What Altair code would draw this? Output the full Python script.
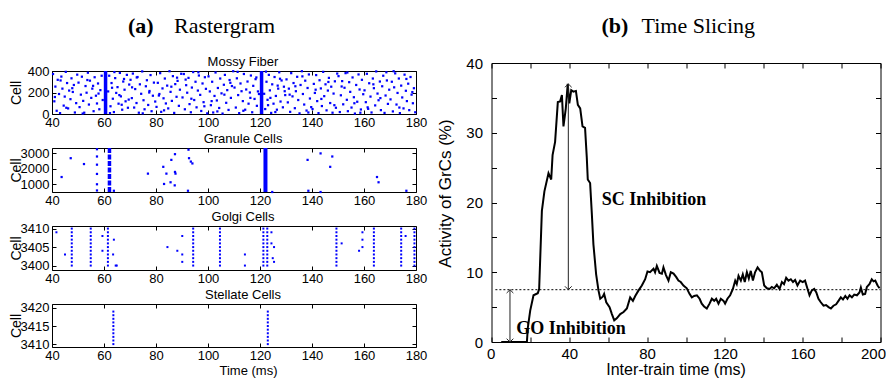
import altair as alt
import pandas as pd

# ------------------------------------------------------------------ data
# (a) Mossy fiber raster: spike times (ms) and cell ids
mf_t = [40.4,40.9,41.3,41.8,42.2,42.7,43.1,43.6,44.0,44.5,44.9,45.3,45.8,46.2,46.6,47.1,47.5,48.0,48.4,48.8,49.3,49.7,41.1,43.3,45.5,47.8,
        50.2,50.6,51.1,51.5,52.0,52.4,52.9,53.3,53.8,54.2,54.6,55.1,55.5,56.0,56.4,56.9,57.3,57.7,58.2,58.6,59.1,59.5,51.8,53.6,55.8,57.9,
        61.6,62.0,62.5,62.9,63.4,63.8,64.3,64.7,65.2,65.6,66.1,66.5,67.0,67.4,67.9,68.3,68.8,69.2,69.7,62.3,64.0,65.9,67.7,69.5,63.1,66.8,
        70.2,70.7,71.1,71.6,72.0,72.5,72.9,73.4,73.8,74.3,74.7,75.2,75.6,76.1,76.5,77.0,77.4,77.9,78.3,78.8,79.2,79.7,70.8,72.6,74.9,77.5,
        80.2,80.7,81.1,81.6,82.0,82.5,82.9,83.4,83.8,84.3,84.7,85.2,85.6,86.1,86.5,87.0,87.4,87.9,88.3,88.8,89.2,89.7,81.3,83.1,85.9,88.1,
        90.2,90.7,91.1,91.6,92.0,92.5,92.9,93.4,93.8,94.3,94.7,95.2,95.6,96.1,96.5,97.0,97.4,97.9,98.3,98.8,99.2,99.7,91.4,93.6,96.3,98.6,
        100.2,100.7,101.1,101.6,102.0,102.5,102.9,103.4,103.8,104.3,104.7,105.2,105.6,106.1,106.5,107.0,107.4,107.9,108.3,108.8,109.2,109.7,101.4,103.6,106.3,108.6,
        110.2,110.7,111.1,111.6,112.0,112.5,112.9,113.4,113.8,114.3,114.7,115.2,115.6,116.1,116.5,117.0,117.4,117.9,118.3,118.8,119.2,119.6,111.4,113.6,116.3,118.6,
        121.6,122.0,122.5,122.9,123.4,123.8,124.3,124.7,125.2,125.6,126.1,126.5,127.0,127.4,127.9,128.3,128.8,129.2,129.7,122.3,124.0,125.9,127.7,129.5,123.1,126.8,
        130.2,130.7,131.1,131.6,132.0,132.5,132.9,133.4,133.8,134.3,134.7,135.2,135.6,136.1,136.5,137.0,137.4,137.9,138.3,138.8,139.2,139.7,131.4,133.6,136.3,138.6,
        140.2,140.7,141.1,141.6,142.0,142.5,142.9,143.4,143.8,144.3,144.7,145.2,145.6,146.1,146.5,147.0,147.4,147.9,148.3,148.8,149.2,149.7,141.4,143.6,146.3,148.6,
        150.2,150.7,151.1,151.6,152.0,152.5,152.9,153.4,153.8,154.3,154.7,155.2,155.6,156.1,156.5,157.0,157.4,157.9,158.3,158.8,159.2,159.7,151.4,153.6,156.3,158.6,
        160.2,160.7,161.1,161.6,162.0,162.5,162.9,163.4,163.8,164.3,164.7,165.2,165.6,166.1,166.5,167.0,167.4,167.9,168.3,168.8,169.2,169.7,161.4,163.6,166.3,168.6,
        170.2,170.7,171.1,171.6,172.0,172.5,172.9,173.4,173.8,174.3,174.7,175.2,175.6,176.1,176.5,177.0,177.4,177.9,178.3,178.8,179.2,179.7,171.4,173.6,176.3,178.6]
mf_c = [372,118,255,30,318,186,8,348,236,78,162,392,288,52,218,138,332,205,270,14,101,366,158,312,58,240,
        292,64,180,347,122,12,260,198,384,88,310,150,236,26,342,170,98,284,44,222,356,130,4,316,262,190,
        210,356,72,288,142,18,334,196,250,96,382,164,40,302,226,118,364,58,274,8,390,176,326,134,244,86,
        318,148,376,60,232,102,344,12,276,188,396,128,44,258,314,84,200,362,26,170,292,116,248,340,6,214,
        66,290,172,380,20,238,146,330,98,264,52,398,206,122,352,10,278,160,308,76,226,374,186,34,254,338,
        154,372,44,268,198,336,92,16,246,390,130,300,62,218,358,178,28,284,110,342,234,6,320,142,388,72,
        350,210,82,300,14,168,386,126,242,56,330,192,4,272,364,104,222,38,316,150,260,398,120,24,180,290,
        246,60,332,176,8,284,212,120,372,40,228,302,96,200,358,16,262,140,324,76,210,186,392,30,150,340,
        188,46,300,132,364,220,10,276,96,344,168,40,236,388,116,312,62,254,176,394,150,18,328,212,82,264,
        322,108,236,20,380,164,288,54,212,346,130,6,270,398,186,88,310,32,242,368,144,64,180,258,350,14,
        46,280,196,362,120,8,314,238,74,392,166,276,34,218,336,102,254,12,190,304,58,376,226,140,298,82,
        352,18,174,306,90,244,380,132,26,296,206,60,340,156,4,270,114,368,228,42,318,184,256,386,100,12,
        220,110,374,48,286,162,14,330,240,80,396,190,128,302,36,258,356,10,172,312,94,226,62,276,148,388,
        136,300,24,248,378,88,196,330,8,264,154,52,366,216,120,282,36,344,180,100,240,16,398,60,326,204]
mf_sync_t = [60.6, 120.6]          # all mossy fibres fire together
mf_cell_range = [0, 400]

# Granule cells
gr_t = [43.7, 47.2, 52.3, 57.3, 57.3, 57.3, 57.3, 57.3, 57.3, 63.8, 76.9, 82.8, 83.1, 84.0, 85.9, 85.6,
        87.3, 87.3, 87.5, 87.2, 92.3, 92.7, 93.4, 94.0, 92.5, 124.7, 138.3, 138.6, 143.3, 143.3, 147.8,
        147.0, 165.0, 165.6, 176.3]
gr_c = [1470, 2690, 2310, 3270, 2800, 2270, 1670, 1000, 600, 580, 1690, 2130, 1020, 1690, 2580, 1130,
        2950, 1800, 1690, 930, 580, 2690, 2470, 2350, 3240, 500, 2580, 580, 3000, 500, 2800,
        2130, 1470, 1130, 580]
gr_sync_t = [62.1, 122.1]
gr_cell_range = [500, 3350]

# Golgi cells
go_cells = [3400, 3401, 3402, 3403, 3404, 3405, 3406, 3407, 3408, 3409, 3410]
go_sync_t = [47.6, 54.9, 61.5, 94.3, 104.6, 121.3, 122.8, 149.4, 163.8, 174.3, 179.4]
go_t = [41.7, 45.0, 59.4, 59.4, 63.8, 63.5, 64.5, 84.4, 88.2, 90.1, 90.1, 90.1, 114.2, 114.2, 124.4,
        124.4, 125.4, 124.9, 125.4, 151.4, 159.4, 159.4, 159.4, 158.1, 176.0, 64.9]
go_c = [3409, 3403, 3408, 3404, 3407, 3403, 3400, 3405, 3404, 3408, 3403, 3401, 3403, 3400, 3409,
        3406, 3405, 3402, 3401, 3406, 3409, 3407, 3405, 3404, 3408, 3400]

# Stellate cells
sc_cells = [3410, 3411, 3412, 3413, 3414, 3415, 3416, 3417, 3418, 3419]
sc_sync_t = [63.6, 123.0]

panel_titles = ["Mossy Fiber", "Granule Cells", "Golgi Cells", "Stellate Cells"]
heading_a = ["(a)", "Rastergram"]
heading_b = ["(b)", "Time Slicing"]

# (b) activity of GrCs vs inter-train time
activity = [(5,0),(10,0),(15,0),(18.2,0),(18.7,2.1),(19.9,4.5),(21.6,6.7),(23.8,7.0),(24.5,7.6),(25.9,18.8),
            (27.2,21.6),(29.3,24.2),(30.7,23.3),(31.4,26.8),(32.7,28.7),(34.1,34.4),(35.3,34.5),(36.2,35.4),
            (37.0,30.9),(38.2,33.5),(39.2,37.0),(40.0,34.2),(41.0,36.1),(42.1,35.9),(43.4,36.0),(44.4,34.0),
            (45.6,33.5),(46.8,30.9),(48.1,30.7),(49.0,26.4),(49.5,23.3),(50.7,22.8),(51.6,18.3),(52.4,14.0),
            (53.8,9.7),(55.0,7.4),(55.9,6.2),(57.2,6.5),(57.9,6.9),(59.0,5.7),(60.7,5.0),(61.9,4.0),(63.1,3.1),
            (64.4,3.4),(66.2,4.0),(67.9,4.3),(69.6,4.8),(71.3,6.4),(72.7,5.9),(73.9,6.6),(75.6,7.4),(77.3,8.1),
            (79.0,9.0),(80.2,10.1),(81.5,10.0),(83.3,10.5),(84.1,10.0),(85.0,10.9),(86.4,9.9),(87.6,9.8),
            (88.4,10.7),(89.7,9.6),(91.0,8.8),(92.2,10.0),(93.6,9.8),(95.0,9.3),(96.1,8.8),(97.3,8.6),(98.7,8.1),
            (100.4,7.7),(101.8,6.9),(103.0,6.4),(104.2,6.6),(105.6,6.7),(107.0,6.2),(108.1,5.5),(109.3,5.1),
            (110.7,4.8),(112.1,5.5),(113.3,6.2),(114.5,5.9),(115.5,6.2),(116.7,5.5),(117.9,6.2),(119.3,5.9),
            (120.1,5.5),(121.3,6.2),(122.7,6.7),(124.1,7.6),(125.3,8.8),(126.1,8.3),(127.0,9.5),(128.2,8.8),
            (129.2,9.7),(130.2,8.6),(131.3,10.0),(132.3,9.1),(133.3,10.2),(134.4,8.8),(135.5,10.0),(136.8,10.7),
            (138.1,10.2),(139.0,10.0),(140.2,8.1),(141.6,7.7),(143.0,7.6),(144.1,7.9),(145.3,7.7),(146.7,8.2),
            (148.1,7.6),(149.3,8.6),(150.4,8.3),(151.5,9.2),(152.7,8.8),(153.9,9.0),(155.0,8.6),(156.1,8.9),
            (157.3,8.1),(158.7,8.8),(160.0,8.6),(161.2,8.8),(162.5,7.6),(163.5,6.7),(164.7,7.4),(165.9,7.6),
            (167.0,7.1),(168.1,6.2),(169.3,5.7),(170.7,5.2),(172.0,5.3),(173.3,5.0),(174.5,4.8),(175.8,5.2),
            (177.2,5.4),(178.4,5.9),(179.6,6.4),(180.7,6.1),(181.9,6.6),(183.0,6.2),(184.1,6.7),(185.3,6.4),
            (186.5,6.8),(187.9,6.7),(189.2,7.1),(189.9,7.8),(190.9,6.8),(192.1,6.9),(193.0,7.9),(194.3,8.3),
            (195.5,9.0),(196.4,8.7),(197.3,8.8),(198.5,8.1),(199.5,7.7)]
baseline_v = 7.5
baseline_t = [2, 200]
arrow_t = [39.5, 9.5]
arrow_lo = [7.5, 0.0]
arrow_hi = [37.0, 7.5]
note_text = ["SC Inhibition", "GO Inhibition"]
note_t = [56.7, 12.7]
note_v = [20.4, 1.9]

# ------------------------------------------------------------------ style
BLUE = "#0000ff"
SANS = "Liberation Sans, Arial, sans-serif"
SERIF = "Liberation Serif, Times New Roman, serif"
WL = 364
XT_L = [40, 60, 80, 100, 120, 140, 160, 180]
XS_L = alt.Scale(domain=[40, 180], nice=False, zero=False)
LFS = 13          # left-panel label size


def tick_layers(df, xf, yf, xs, ys, xv, yv, W, H, size):
    def ax(orient, off, vals):
        return alt.Axis(orient=orient, offset=off, values=vals, labels=False, domain=False,
                        grid=False, ticks=True, tickSize=size, tickColor="black", tickWidth=1,
                        title=None)
    base = alt.Chart(df).mark_point(opacity=0)
    a = base.encode(x=alt.X(f"{xf}:Q", scale=xs, axis=ax("top", -H, xv)),
                    y=alt.Y(f"{yf}:Q", scale=ys, axis=ax("right", -W, yv)))
    b = base.encode(x=alt.X(f"{xf}:Q", scale=xs, axis=ax("bottom", -H, xv)),
                    y=alt.Y(f"{yf}:Q", scale=ys, axis=ax("left", -W, yv)))
    return [a, b]


def x_axis_left(title=None):
    kw = dict(values=XT_L, ticks=False, tickSize=0, domain=False, grid=False, labelFont=SANS,
              labelFontSize=LFS, labelColor="black", labelPadding=2, labelFlush=False,
              labelOverlap=False, format="d")
    if title:
        kw.update(title=title, titleFont=SANS, titleFontSize=13, titleFontWeight="normal",
                  titleColor="black", titleX=196, titleY=27, titleBaseline="alphabetic")
    else:
        kw["title"] = None
    return alt.Axis(**kw)


def y_axis_left(vals, H):
    return alt.Axis(values=vals, ticks=False, tickSize=0, domain=False, grid=False,
                    labelFont=SANS, labelFontSize=LFS, labelColor="black", labelPadding=3,
                    labelFlush=False, labelOverlap=False, format="d", title="Cell",
                    titleFont=SANS, titleFontSize=14, titleFontWeight="normal",
                    titleColor="black", titleX=-29, titleY=H / 2, titleAngle=270,
                    titleBaseline="bottom", titleAlign="center")


def title_layer(text):
    return alt.Chart(pd.DataFrame({"label": [text]})).mark_text(
        font=SANS, fontSize=13, baseline="alphabetic", align="center", color="black"
    ).encode(x=alt.value(191), y=alt.value(-5.5), text="label:N")


def raster(title, dots, ys, yv, H, extra, dot_size=5, xtitle=None):
    main = alt.Chart(dots).mark_square(size=dot_size, color=BLUE, opacity=1).encode(
        x=alt.X("t:Q", scale=XS_L, axis=x_axis_left(xtitle)),
        y=alt.Y("c:Q", scale=ys, axis=y_axis_left(yv, H)))
    tdf = pd.DataFrame({"t": [XS_L.domain[0]], "c": [ys.domain[0]]})
    layers = [main] + list(extra) + [title_layer(title)] + \
        tick_layers(tdf, "t", "c", XS_L, ys, XT_L, yv, WL, H, 4)
    return alt.layer(*layers).resolve_axis(x="independent", y="independent").properties(
        width=WL, height=H)


def heading(parts, xs, width):
    df_b = pd.DataFrame({"label": [parts[0]]})
    df_n = pd.DataFrame({"label": [parts[1]]})
    bold = alt.Chart(df_b).mark_text(font=SERIF, fontSize=22, fontWeight="bold", align="left",
                                     baseline="middle", color="black").encode(
        x=alt.value(xs[0]), y=alt.value(11), text="label:N")
    norm = alt.Chart(df_n).mark_text(font=SERIF, fontSize=22, fontWeight="normal", align="left",
                                     baseline="middle", color="black").encode(
        x=alt.value(xs[1]), y=alt.value(11), text="label:N")
    return alt.layer(bold, norm).properties(
        width=width, height=22, view=alt.ViewBackground(stroke="transparent"))


# --- Mossy fibre
ys_mf = alt.Scale(domain=mf_cell_range, nice=False, zero=False)
df_mf = pd.DataFrame({"t": mf_t, "c": mf_c})
df_mfs = pd.DataFrame({"t": mf_sync_t, "lo": [mf_cell_range[0]] * 2, "hi": [mf_cell_range[1]] * 2})
mf_bars = alt.Chart(df_mfs).mark_rule(color=BLUE, strokeWidth=3.5).encode(
    x=alt.X("t:Q", scale=XS_L, axis=None), y=alt.Y("lo:Q", scale=ys_mf, axis=None), y2="hi:Q")
mossy = raster(panel_titles[0], df_mf, ys_mf, [0, 200, 400], 43, [mf_bars])

# --- Granule cells
ys_gr = alt.Scale(domain=gr_cell_range, nice=False, zero=False)
df_gr = pd.DataFrame({"t": gr_t, "c": gr_c})
df_grs = pd.DataFrame({"t": gr_sync_t, "lo": [gr_cell_range[0]] * 2, "hi": [gr_cell_range[1]] * 2})
gr_col1 = alt.Chart(df_grs.iloc[[0]]).mark_rule(color=BLUE, strokeWidth=3.5, strokeDash=[5, 1.5]).encode(
    x=alt.X("t:Q", scale=XS_L, axis=None), y=alt.Y("lo:Q", scale=ys_gr, axis=None), y2="hi:Q")
gr_col2 = alt.Chart(df_grs.iloc[[1]]).mark_rule(color=BLUE, strokeWidth=4).encode(
    x=alt.X("t:Q", scale=XS_L, axis=None), y=alt.Y("lo:Q", scale=ys_gr, axis=None), y2="hi:Q")
granule = raster(panel_titles[1], df_gr, ys_gr, [1000, 2000, 3000], 44, [gr_col1, gr_col2])

# --- Golgi cells
ys_go = alt.Scale(domain=[3398.8, 3410.7], nice=False, zero=False)
df_go = pd.concat([
    pd.DataFrame({"t": [t] * len(go_cells), "c": go_cells}) for t in go_sync_t
] + [pd.DataFrame({"t": go_t, "c": go_c})], ignore_index=True)
golgi = raster(panel_titles[2], df_go, ys_go, [3400, 3405, 3410], 44, [], dot_size=4)

# --- Stellate cells
ys_sc = alt.Scale(domain=[3409.2, 3421.1], nice=False, zero=False)
df_sc = pd.concat([pd.DataFrame({"t": [t] * len(sc_cells), "c": sc_cells}) for t in sc_sync_t],
                  ignore_index=True)
stellate = raster(panel_titles[3], df_sc, ys_sc, [3410, 3415, 3420], 43, [], dot_size=4,
                  xtitle="Time (ms)")

left = alt.vconcat(heading(heading_a, [76, 122], WL), mossy, granule, golgi, stellate,
                   spacing=34, bounds="flush")

# ------------------------------------------------------------------ (b)
WR, HR = 389, 279
xr = alt.Scale(domain=[0, 200], nice=False, zero=False)
yr = alt.Scale(domain=[0, 40], nice=False, zero=False)
df_act = pd.DataFrame(activity, columns=["t", "v"])

line = alt.Chart(df_act).mark_line(color="black", strokeWidth=2).encode(
    x=alt.X("t:Q", scale=xr, axis=alt.Axis(
        values=[0, 40, 80, 120, 160, 200], ticks=False, tickSize=0, domain=False, grid=False,
        labelFont=SANS, labelFontSize=15, labelColor="black", labelPadding=4, labelFlush=True,
        labelFlushOffset=5, labelOverlap=False, format="d", title="Inter-train time (ms)",
        titleFont=SANS, titleFontSize=16, titleFontWeight="normal", titleColor="black",
        titleX=184, titleY=32, titleBaseline="alphabetic")),
    y=alt.Y("v:Q", scale=yr, axis=alt.Axis(
        values=[0, 10, 20, 30, 40], ticks=False, tickSize=0, domain=False, grid=False,
        labelFont=SANS, labelFontSize=15, labelColor="black", labelPadding=9, labelFlush=False,
        labelOverlap=False, format="d", title="Activity of GrCs (%)", titleFont=SANS,
        titleFontSize=17, titleFontWeight="normal", titleColor="black", titleX=-37, titleY=130,
        titleAngle=270, titleBaseline="bottom", titleAlign="center")))

df_base = pd.DataFrame({"t0": [baseline_t[0]], "t1": [baseline_t[1]], "v": [baseline_v]})
base_rule = alt.Chart(df_base).mark_rule(color="black", strokeWidth=1, strokeDash=[2, 2]).encode(
    x=alt.X("t0:Q", scale=xr, axis=None), x2="t1:Q", y=alt.Y("v:Q", scale=yr, axis=None))

df_arr = pd.DataFrame({"t": arrow_t, "lo": arrow_lo, "hi": arrow_hi})
shafts = alt.Chart(df_arr).mark_rule(color="#222222", strokeWidth=1).encode(
    x=alt.X("t:Q", scale=xr, axis=None), y=alt.Y("lo:Q", scale=yr, axis=None), y2="hi:Q")
heads_up = alt.Chart(df_arr).mark_point(shape="M-1,1L0,0L1,1", size=45, filled=False,
                                        color="#222222", strokeWidth=1, opacity=1).encode(
    x=alt.X("t:Q", scale=xr, axis=None), y=alt.Y("hi:Q", scale=yr, axis=None))
heads_dn = alt.Chart(df_arr).mark_point(shape="M-1,-1L0,0L1,-1", size=45, filled=False,
                                        color="#222222", strokeWidth=1, opacity=1).encode(
    x=alt.X("t:Q", scale=xr, axis=None), y=alt.Y("lo:Q", scale=yr, axis=None))

df_notes = pd.DataFrame({"label": note_text, "t": note_t, "v": note_v})
notes = alt.Chart(df_notes).mark_text(font=SERIF, fontSize=18, fontWeight="bold", align="left",
                                      baseline="middle", color="black").encode(
    x=alt.X("t:Q", scale=xr, axis=None), y=alt.Y("v:Q", scale=yr, axis=None), text="label:N")

tdf_r = pd.DataFrame({"t": [0], "v": [0]})
right_plot = alt.layer(
    line, base_rule, shafts, heads_up, heads_dn, notes,
    *tick_layers(tdf_r, "t", "v", xr, yr, list(range(0, 201, 20)), list(range(0, 41, 5)), WR, HR, 5)
).resolve_axis(x="independent", y="independent").properties(width=WR, height=HR)

right = alt.vconcat(heading(heading_b, [110, 150], WR), right_plot, spacing=26, bounds="flush")

chart = alt.hconcat(left, right, spacing=7.5, bounds="full").properties(
    padding={"left": 0, "top": 6, "right": 0, "bottom": 0}, background="white"
).configure_view(stroke="black", strokeWidth=1)

chart.save("out.html", embed_options={"renderer": "svg", "actions": False})
